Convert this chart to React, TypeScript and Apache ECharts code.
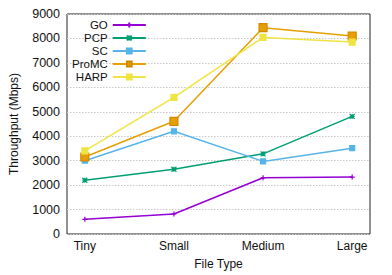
import React, { useEffect, useRef } from "react";
import * as echarts from "echarts";

const categories = ["Tiny", "Small", "Medium", "Large"];
const yTicks = [0, 1000, 2000, 3000, 4000, 5000, 6000, 7000, 8000, 9000];
const goValues = [600, 820, 2300, 2330];
const pcpValues = [2200, 2650, 3280, 4810];
const scValues = [3000, 4200, 2970, 3510];
const promcValues = [3150, 4610, 8440, 8100];
const harpValues = [3400, 5590, 8040, 7850];

const FONT = "'Liberation Sans', Arial, Helvetica, sans-serif";

const plus = "path://M0,-5L0,5M-5,0L5,0";
const cross = "path://M-5,-5L5,5M-5,5L5,-5M0,-5L0,5M-5,0L5,0";

function mk(name: string, values: number[], color: string, symbol: string, size: number, extra: any = {}) {
  return {
    name,
    type: "line",
    data: values.map((v, i) => [i, v]),
    symbol,
    symbolSize: size,
    showSymbol: true,
    lineStyle: { color, width: 1.5 },
    itemStyle: { color, borderColor: color, borderWidth: 1.2, ...extra },
    emphasis: { disabled: true },
  };
}

export default function App() {
  const ref = useRef<HTMLDivElement>(null);
  useEffect(() => {
    const chart = echarts.init(ref.current!, undefined, { renderer: "svg" });
    chart.setOption({
      animation: false,
      textStyle: { fontFamily: FONT },
      grid: {
        left: 66,
        top: 14,
        width: 304,
        height: 222,
        show: true,
        borderColor: "#222",
        borderWidth: 1,
        backgroundColor: "transparent",
      },
      legend: {
        orient: "vertical",
        align: "right",
        left: 67,
        top: 14,
        itemWidth: 33,
        itemHeight: 6,
        itemGap: 1,
        padding: 5,
        textStyle: { fontFamily: FONT, fontSize: 11.5, color: "#111", lineHeight: 11 },
        data: ["GO", "PCP", "SC", "ProMC", "HARP"],
      },
      xAxis: {
        type: "value",
        min: -0.2,
        max: 3.2,
        name: "File Type",
        nameLocation: "middle",
        nameGap: 24,
        nameTextStyle: { fontFamily: FONT, fontSize: 12, color: "#111" },
        axisLine: { show: false },
        axisTick: { show: false },
        splitLine: { show: false },
        axisLabel: {
          customValues: [0, 1, 2, 3],
          formatter: (v: number) => categories[Math.round(v)] ?? "",
          fontFamily: FONT,
          fontSize: 12,
          color: "#111",
          margin: 6,
        },
      },
      yAxis: {
        type: "value",
        min: 0,
        max: 9000,
        interval: 1000,
        name: "Throughput (Mbps)",
        nameLocation: "middle",
        nameGap: 47,
        nameTextStyle: { fontFamily: FONT, fontSize: 12, color: "#111" },
        axisLine: { show: false },
        axisTick: { show: false },
        axisLabel: {
          formatter: (v: number) => (yTicks.includes(v) ? String(v) : ""),
          fontFamily: FONT,
          fontSize: 12.5,
          color: "#111",
          margin: 7,
        },
        splitLine: { show: true, lineStyle: { color: "#c8c8c8", type: [1.5, 1.5], width: 1 } },
      },
      series: [
        mk("GO", goValues, "#9400d3", plus, 5),
        mk("PCP", pcpValues, "#009e73", cross, 5),
        mk("SC", scValues, "#56b4e9", "rect", 5),
        mk("ProMC", promcValues, "#e69f00", "rect", 8, { borderColor: "#d08a00" }),
        mk("HARP", harpValues, "#f0e442", "rect", 6),
      ],
    });
    return () => chart.dispose();
  }, []);
  return (
    <div
      ref={ref}
      style={{ position: "absolute", left: 0, top: 0, width: 392, height: 275 }}
    />
  );
}
